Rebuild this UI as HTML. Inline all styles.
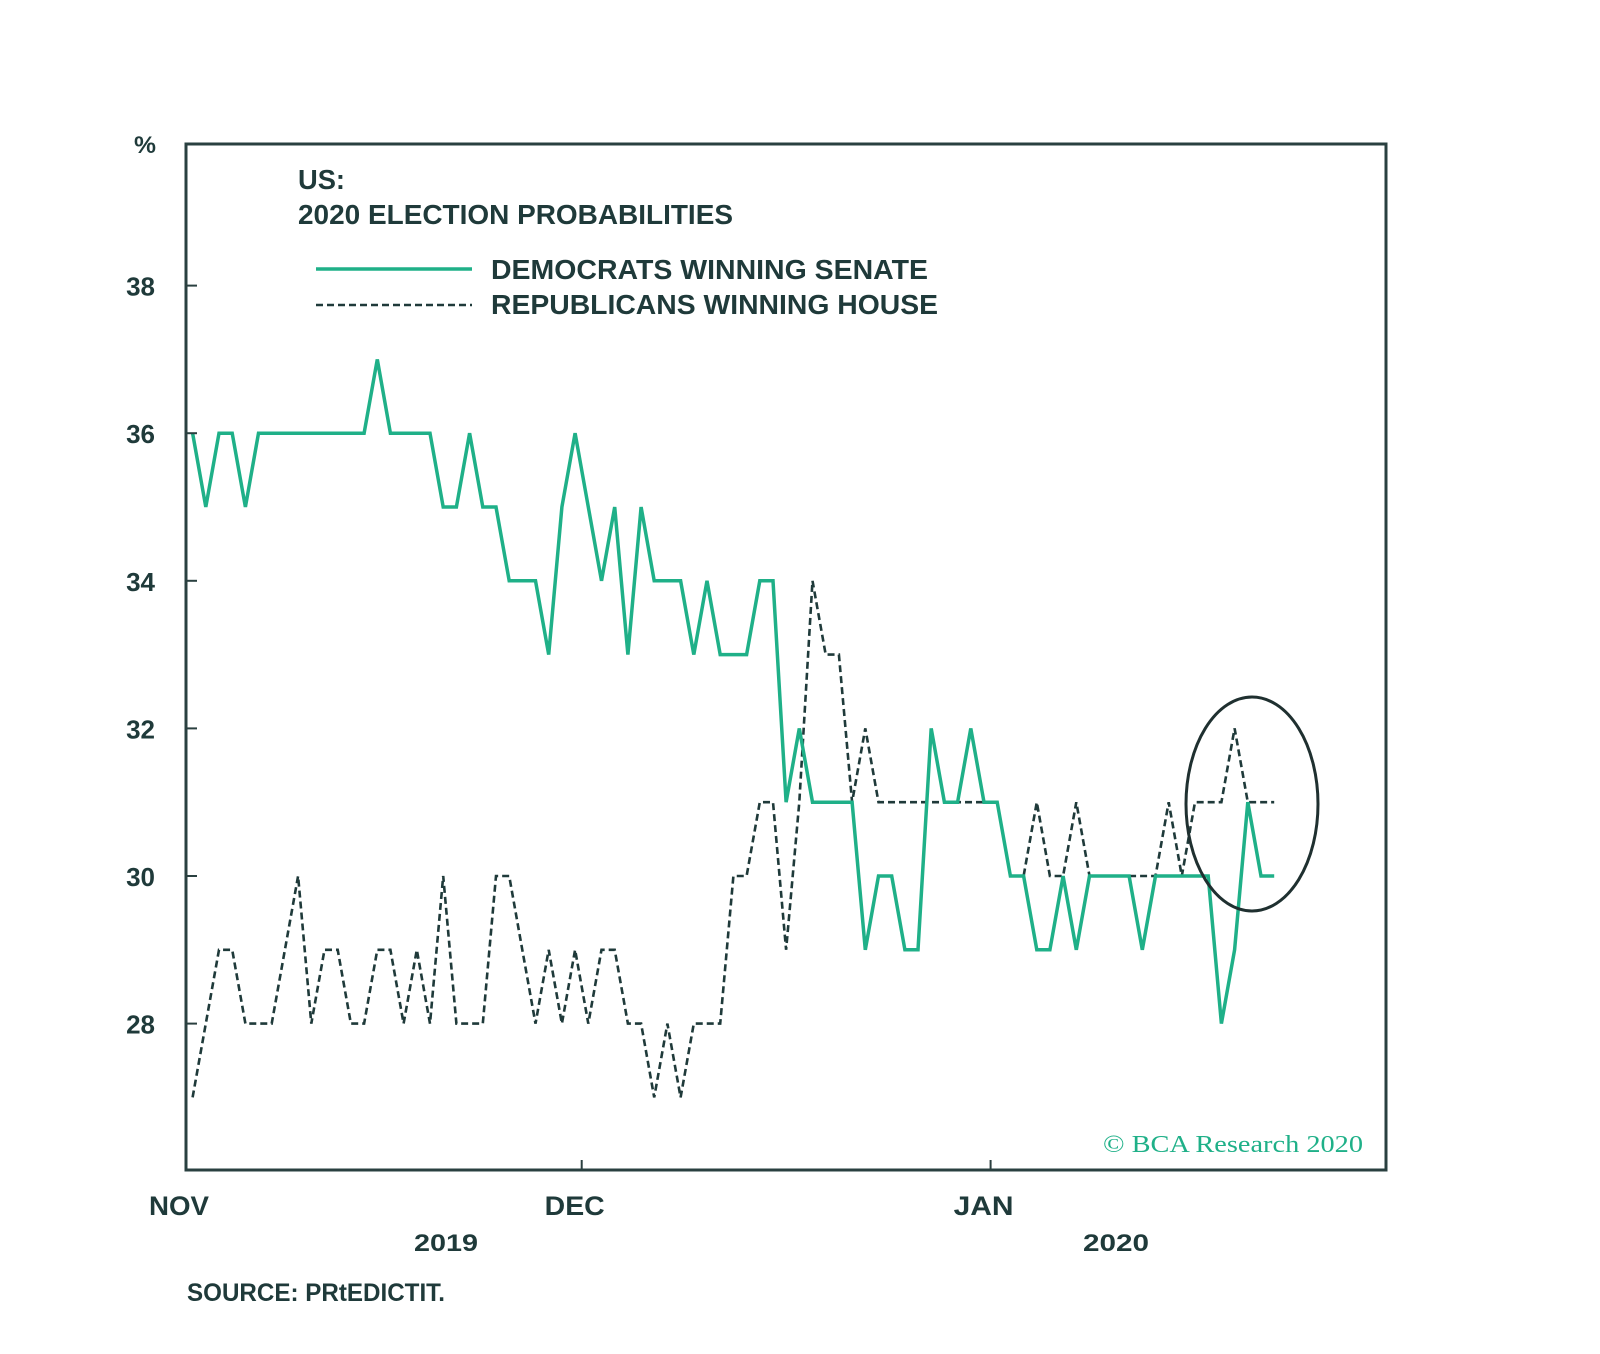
<!DOCTYPE html>
<html><head><meta charset="utf-8"><style>
html,body{margin:0;padding:0;background:#fff;}
svg{display:block;}
text{font-family:"Liberation Sans",sans-serif;font-weight:bold;fill:#1f3a3a;}
</style></head><body>
<svg id="chart" width="1600" height="1354" viewBox="0 0 1600 1354" xmlns="http://www.w3.org/2000/svg">
<rect x="0" y="0" width="1600" height="1354" fill="#fff"/>
<g id="plot"></g>
<rect x="186" y="144" width="1200" height="1026" fill="none" stroke="#2a4040" stroke-width="3"/>
<text x="134" y="153" font-size="24" textLength="22" lengthAdjust="spacingAndGlyphs">%</text>
<text x="298" y="189" font-size="28" textLength="47" lengthAdjust="spacingAndGlyphs">US:</text>
<text x="298" y="224" font-size="28" textLength="435" lengthAdjust="spacingAndGlyphs">2020 ELECTION PROBABILITIES</text>
<line x1="316" y1="269" x2="472" y2="269" stroke="#1fb088" stroke-width="3.5"/>
<text x="491" y="279" font-size="28" textLength="437" lengthAdjust="spacingAndGlyphs">DEMOCRATS WINNING SENATE</text>
<line x1="316" y1="305" x2="472" y2="305" stroke="#1f3a3a" stroke-width="2.5" stroke-dasharray="7,4"/>
<text x="491" y="314" font-size="28" textLength="447" lengthAdjust="spacingAndGlyphs">REPUBLICANS WINNING HOUSE</text>
<text x="1103" y="1152" font-size="24" textLength="260" lengthAdjust="spacingAndGlyphs" style="font-family:'Liberation Serif',serif;font-weight:normal;fill:#1fb088">© BCA Research 2020</text>
<text x="414" y="1251" font-size="24" textLength="64" lengthAdjust="spacingAndGlyphs">2019</text>
<text x="1083" y="1251" font-size="24" textLength="66" lengthAdjust="spacingAndGlyphs">2020</text>
<text x="187" y="1301" font-size="25" textLength="258" lengthAdjust="spacingAndGlyphs">SOURCE: PRtEDICTIT.</text>
<ellipse cx="1252" cy="804" rx="66" ry="107" fill="none" stroke="#1f3030" stroke-width="3"/>
</svg>
<script>
const yTicks = [28, 30, 32, 34, 36, 38];
const monthLabels = ["NOV", "DEC", "JAN"];
const monthDays = [0, 30, 61];
const dem = [36,35,36,36,35,36,36,36,36,36,36,36,36,36,37,36,36,36,36,35,35,36,35,35,34,34,34,33,35,36,35,34,35,33,35,34,34,34,33,34,33,33,33,34,34,31,32,31,31,31,31,29,30,30,29,29,32,31,31,32,31,31,30,30,29,29,30,29,30,30,30,30,29,30,30,30,30,30,28,29,31,30,30];
const rep = [27,28,29,29,28,28,28,29,30,28,29,29,28,28,29,29,28,29,28,30,28,28,28,30,30,29,28,29,28,29,28,29,29,28,28,27,28,27,28,28,28,30,30,31,31,29,31,34,33,33,31,32,31,31,31,31,31,31,31,31,31,31,30,30,31,30,30,31,30,30,30,30,30,30,31,30,31,31,31,32,31,31,31];

const NS = "http://www.w3.org/2000/svg";
const plot = document.getElementById("plot");
const svg = document.getElementById("chart");
function yScale(v){ return 876 - (v - 30) * 73.8; }
function xDay(d){ return 186 + 13.19 * d; }
function xIdx(i){ return xDay(i + 0.5); }

yTicks.forEach(function(t){
  const ln = document.createElementNS(NS, "line");
  ln.setAttribute("x1", 186); ln.setAttribute("x2", 197);
  ln.setAttribute("y1", yScale(t)); ln.setAttribute("y2", yScale(t));
  ln.setAttribute("stroke", "#2a4040"); ln.setAttribute("stroke-width", "2");
  
  
  svg.appendChild(ln);
  const tx = document.createElementNS(NS, "text");
  tx.setAttribute("x", 155); tx.setAttribute("y", yScale(t) + 10);
  tx.setAttribute("text-anchor", "end"); tx.setAttribute("font-size", "26");
  tx.textContent = t;
  
  
  svg.appendChild(tx);
});

monthLabels.forEach(function(m, k){
  const x = xDay(monthDays[k]);
  if (k > 0) {
    const ln = document.createElementNS(NS, "line");
    ln.setAttribute("x1", x); ln.setAttribute("x2", x);
    ln.setAttribute("y1", 1160); ln.setAttribute("y2", 1170);
    ln.setAttribute("stroke", "#2a4040"); ln.setAttribute("stroke-width", "2");
    
    
    svg.appendChild(ln);
  }
  const tx = document.createElementNS(NS, "text");
  tx.setAttribute("x", x - 37); tx.setAttribute("y", 1215);
  tx.setAttribute("font-size", "27");
  tx.setAttribute("textLength", "60"); tx.setAttribute("lengthAdjust", "spacingAndGlyphs");
  tx.textContent = m;
  
  
  svg.appendChild(tx);
});

function pts(arr){ return arr.map(function(v,i){ return xIdx(i).toFixed(1) + "," + yScale(v).toFixed(1); }).join(" "); }

const repLine = document.createElementNS(NS, "polyline");
repLine.setAttribute("points", pts(rep));
repLine.setAttribute("fill", "none"); repLine.setAttribute("stroke", "#1f3a3a");
repLine.setAttribute("stroke-width", "2.6"); repLine.setAttribute("stroke-dasharray", "7,4");


plot.appendChild(repLine);

const demLine = document.createElementNS(NS, "polyline");
demLine.setAttribute("points", pts(dem));
demLine.setAttribute("fill", "none"); demLine.setAttribute("stroke", "#1fb088");
demLine.setAttribute("stroke-width", "3.5"); demLine.setAttribute("stroke-linejoin", "miter");


plot.appendChild(demLine);
</script>
</body></html>
